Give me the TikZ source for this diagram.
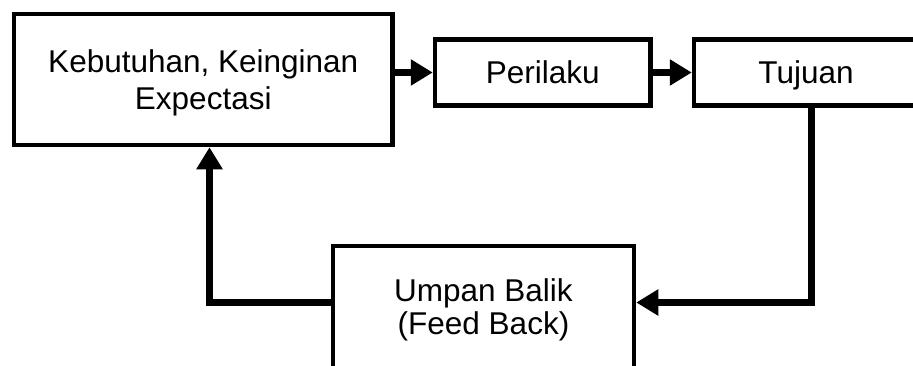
\documentclass[tikz,border=0pt]{standalone}
\usepackage{fontspec}
\setmainfont{Liberation Sans}
\usetikzlibrary{arrows.meta}
\begin{document}
\begin{tikzpicture}[x=1pt,y=-1pt,
  blockbox/.style={draw=black, line width=4.5pt, inner sep=0pt, align=center,
    font=\fontsize{31.5}{37}\selectfont, text depth=0pt},
  flow/.style={line width=7pt, -{Triangle[length=22pt,width=25pt]}}]
\useasboundingbox (0,0) rectangle (913,365);
\clip (0,0) rectangle (913,365);

% blocks
\node[blockbox, minimum width=378.5pt, minimum height=131pt] (needs) at (203.25,79.5)
  {Kebutuhan, Keinginan\\Expectasi};
\node[blockbox, minimum width=215.5pt, minimum height=66pt] (behav) at (542.75,72.5) {Perilaku};
\node[blockbox, minimum width=224pt, minimum height=66pt] (goal) at (806,72.5) {Tujuan};
\node[blockbox, font=\fontsize{31.5}{33}\selectfont, text depth=4pt,
  minimum width=301pt, minimum height=126pt] (fb) at (483.5,309) {Umpan Balik\\(Feed Back)};

% corners of the feedback loop
\coordinate (rdrop) at (811.5,302.5);
\coordinate (lrise) at (209.5,302.5);

% connectors
\draw[flow] (needs.east |- behav.west) -- (behav.west);
\draw[flow] (behav.east) -- (goal.west);
\draw[flow] (rdrop |- goal.south) -- (rdrop) -- (fb.east |- rdrop);
\draw[flow] (fb.west |- lrise) -- (lrise) -- (lrise |- needs.south);
\end{tikzpicture}
\end{document}
